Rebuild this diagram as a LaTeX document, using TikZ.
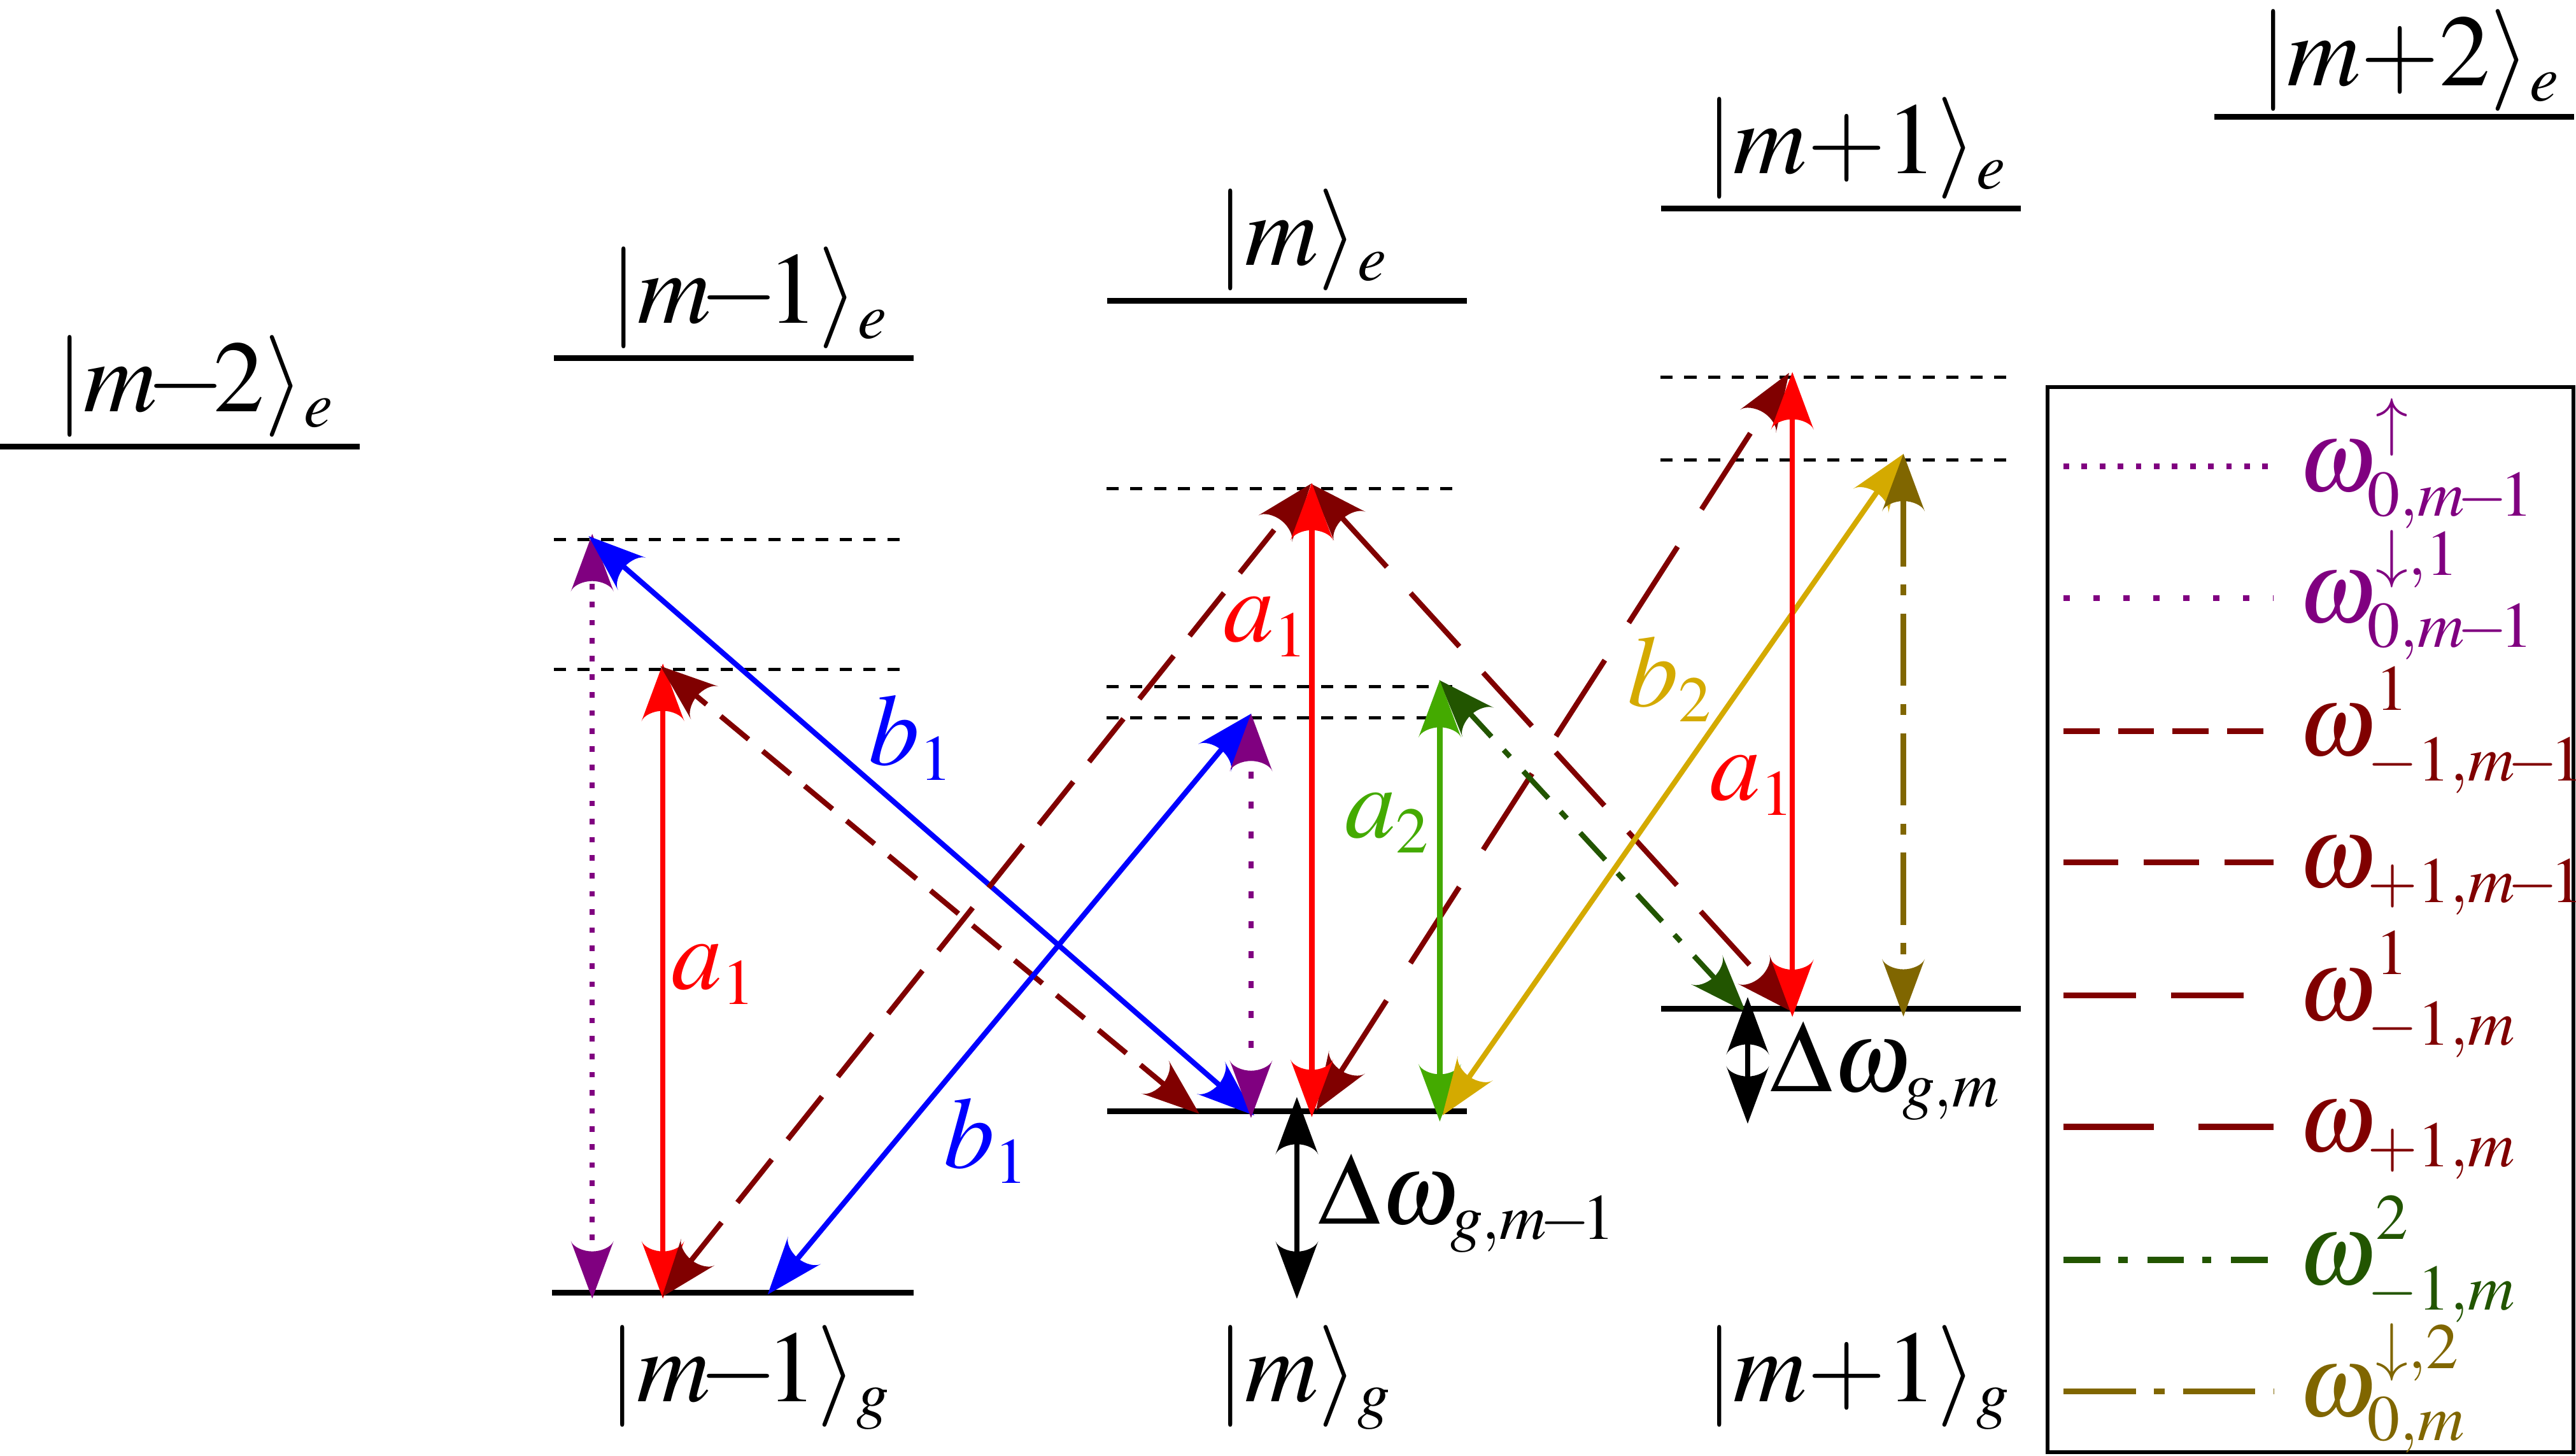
\documentclass[tikz,border=0pt]{standalone}
\usepackage{mathptmx}
\usetikzlibrary{arrows.meta}
\DeclareMathSizes{17.6}{17.6}{11.2}{8.8}
\newcommand{\mmin}{\mkern-2mu{-}\mkern-2mu}
\newcommand{\upsup}[1]{\raisebox{1.5pt}{$\scriptstyle #1$}}

\pgfdeclarearrow{
  name = CStealth,
  parameters = {\the\pgfarrowlength,\the\pgfarrowwidth},
  setup code = {
    \pgfarrowssettipend{0pt}
    \pgfarrowssetbackend{-\pgfarrowlength}
    \pgfarrowssetlineend{-.7\pgfarrowlength}
    \pgfarrowshullpoint{0pt}{0pt}
    \pgfarrowshullpoint{-\pgfarrowlength}{.5\pgfarrowwidth}
    \pgfarrowshullpoint{-\pgfarrowlength}{-.5\pgfarrowwidth}
    \pgfarrowssavethe\pgfarrowlength
    \pgfarrowssavethe\pgfarrowwidth
  },
  drawing code = {
    \pgfpathmoveto{\pgfqpoint{0pt}{0pt}}
    \pgfpathlineto{\pgfqpoint{-\pgfarrowlength}{.5\pgfarrowwidth}}
    \pgfpathcurveto{\pgfqpoint{-.9\pgfarrowlength}{.45\pgfarrowwidth}}{\pgfqpoint{-.82\pgfarrowlength}{.22\pgfarrowwidth}}{\pgfqpoint{-.82\pgfarrowlength}{0pt}}
    \pgfpathcurveto{\pgfqpoint{-.82\pgfarrowlength}{-.22\pgfarrowwidth}}{\pgfqpoint{-.9\pgfarrowlength}{-.45\pgfarrowwidth}}{\pgfqpoint{-\pgfarrowlength}{-.5\pgfarrowwidth}}
    \pgfpathclose
    \pgfusepathqfill
  },
  defaults = {length = 3.5mm, width = 2.6mm}
}

\definecolor{cMaroon}{RGB}{128,0,0}
\definecolor{cPurple}{RGB}{128,0,128}
\definecolor{cGreen}{RGB}{68,170,0}
\definecolor{cDGreen}{RGB}{34,85,0}
\definecolor{cGold}{RGB}{212,170,0}
\definecolor{cOlive}{RGB}{128,102,0}
\definecolor{cRed}{RGB}{255,0,0}
\definecolor{cBlue}{RGB}{0,0,255}

\begin{document}
\begin{tikzpicture}[x=0.01cm,y=-0.01cm,
  >={CStealth[length=0.35cm,width=0.26cm]},
  lvl/.style={line width=0.036cm},
  virt/.style={line width=0.02cm, dash pattern=on 0.074cm off 0.071cm},
  tr/.style={line width=0.032cm, <->},
  legline/.style={line width=0.036cm},
  dotA/.style={dash pattern=on 0.034cm off 0.076cm},
  dotB/.style={dash pattern=on 0.04cm off 0.142cm},
  dashA/.style={dash pattern=on 0.22cm off 0.112cm},
  dashB/.style={dash pattern=on 0.335cm off 0.155cm},
  dashC/.style={dash pattern=on 0.44cm off 0.215cm},
  dashD/.style={dash pattern=on 0.55cm off 0.27cm},
  ddotA/.style={dash pattern=on 0.224cm off 0.11cm on 0.056cm off 0.12cm},
  ddotB/.style={dash pattern=on 0.44cm off 0.11cm on 0.067cm off 0.11cm},
  lab/.style={inner sep=0pt, font=\fontsize{17.6}{21}\selectfont},
]
\useasboundingbox (0,0) rectangle (1568,886);

% ---------- energy levels ----------
\draw[lvl] (0,272) -- (219,272);
\draw[lvl] (337,218) -- (556,218);
\draw[lvl] (674,183) -- (893,183);
\draw[lvl] (1011,127) -- (1230,127);
\draw[lvl] (1348,71) -- (1567,71);
\draw[lvl] (336,787) -- (556,787);
\draw[lvl] (674,676.5) -- (893,676.5);
\draw[lvl] (1011,614) -- (1230,614);

% ---------- virtual levels ----------
\draw[virt] (337,328.6) -- (550,328.6);
\draw[virt] (337,407.5) -- (550,407.5);
\draw[virt] (673.5,297.5) -- (886,297.5);
\draw[virt] (673.5,418) -- (886,418);
\draw[virt] (673.5,437) -- (886,437);
\draw[virt] (1010.7,229.7) -- (1223,229.7);
\draw[virt] (1010.7,280) -- (1223,280);

% ---------- level labels ----------
\node[lab, anchor=base] (Lem2) at (109.5,250.6) {$|m\mmin2\rangle$\rlap{$_e$}};
\node[lab, anchor=base] (Lem1) at (446.5,196.6) {$|m\mmin1\rangle$\rlap{$_e$}};
\node[lab, anchor=base] (Lem0) at (783.5,161.6) {$|m\rangle$\rlap{$_e$}};
\node[lab, anchor=base] (Lep1) at (1120.5,105.6) {$|m{+}1\rangle$\rlap{$_e$}};
\node[lab, anchor=base] (Lep2) at (1457.5,52) {$|m{+}2\rangle$\rlap{$_e$}};
\node[lab, anchor=base] (Lgm1) at (446,853) {$|m\mmin1\rangle$\rlap{$_g$}};
\node[lab, anchor=base] (Lgm0) at (783.5,853) {$|m\rangle$\rlap{$_g$}};
\node[lab, anchor=base] (Lgp1) at (1120.5,853) {$|m{+}1\rangle$\rlap{$_g$}};

% ---------- arrow end points ----------
\coordinate (P1b) at (360.5,790.5);  \coordinate (P1t) at (360.5,325);
\coordinate (R1b) at (403.5,790.5);  \coordinate (R1t) at (403.5,404);
\coordinate (M1t) at (402,405.5);    \coordinate (M1b) at (730,678);
\coordinate (M2b) at (403,789.5);    \coordinate (Mtop) at (798,294.5);
\coordinate (M3b) at (1091,616);
\coordinate (M4b) at (801,676);      \coordinate (M4t) at (1089,227);
\coordinate (R2b) at (798.5,680);    \coordinate (R2t) at (798.5,294);
\coordinate (B1t) at (358.3,326.4);  \coordinate (B1b) at (763.4,679);
\coordinate (B2b) at (467.3,788);    \coordinate (B2t) at (761.7,434.4);
\coordinate (P2t) at (761.5,434.5);  \coordinate (P2b) at (761.5,680.5);
\coordinate (Gb) at (876.4,682.7);   \coordinate (Gt) at (876.4,414);
\coordinate (DGt) at (876,414);      \coordinate (DGb) at (1062.6,616);
\coordinate (Yb) at (878,679);       \coordinate (Yt) at (1158.7,276.3);
\coordinate (R3b) at (1091,619);     \coordinate (R3t) at (1091,226.5);
\coordinate (Ot) at (1158.6,276.3);  \coordinate (Ob) at (1158.6,618.8);
\coordinate (K1t) at (789.4,667.8);  \coordinate (K1b) at (789.4,790.6);
\coordinate (K2t) at (1063.8,607);   \coordinate (K2b) at (1063.8,684);

% ---------- transitions ----------
\draw[tr, cPurple, dotA] (P1b) -- (P1t);
\draw[tr, cRed] (R1b) -- (R1t);
\draw[tr, cBlue] (B1b) -- (B1t);
\draw[tr, cMaroon, dashA] (M1b) -- (M1t);
\draw[tr, cMaroon, dashB] (M2b) -- (Mtop);
\draw[tr, cMaroon, dashC] (Mtop) -- (M3b);
\draw[tr, cMaroon, dashD] (M4b) -- (M4t);
\draw[tr, cBlue] (B2b) -- (B2t);
\draw[tr, cPurple, dotB] (P2b) -- (P2t);
\draw[tr, cRed] (R2b) -- (R2t);
\draw[tr, cDGreen, ddotA] (DGt) -- (DGb);
\draw[tr, cGreen] (Gb) -- (Gt);
\draw[tr, cGold] (Yb) -- (Yt);
\draw[tr, cOlive, ddotB] (Ot) -- (Ob);
\draw[tr, cRed] (R3b) -- (R3t);
\draw[tr, black] (K1t) -- (K1b);
\draw[tr, black] (K2t) -- (K2b);

% ---------- transition labels ----------
\node[lab, anchor=base west, text=cRed] (la1) at (408,602) {$a_1$};
\node[lab, anchor=base west, text=cBlue] (lb1u) at (528,465.6) {$b_1$};
\node[lab, anchor=base west, text=cBlue] (lb1d) at (574,711) {$b_1$};
\node[lab, anchor=base west, text=cRed] (la1m) at (744,390.6) {$a_1$};
\node[lab, anchor=base west, text=cGreen] (la2) at (818,510) {$a_2$};
\node[lab, anchor=base west, text=cGold] (lb2) at (990,430) {$b_2$};
\node[lab, anchor=base west, text=cRed] (la1p) at (1040,487) {$a_1$};
\node[lab, anchor=base west] (ldw1) at (801.8,745) {$\Delta\omega_{g,m\mmin1}$};
\node[lab, anchor=base west] (ldw2) at (1077,664.6) {$\Delta\omega_{g,m}$};

% ---------- legend ----------
\draw[line width=0.021cm] (1246.4,235.6) rectangle (1566.4,884);
\draw[legline, cPurple, dotA] (1256,284) -- (1384,284);
\node[lab, anchor=base west, text=cPurple] (k1) at (1398,299) {$\omega^{\upsup{\uparrow}}_{0,m\mmin1}$};
\draw[legline, cPurple, dotB] (1256,364) -- (1384,364);
\node[lab, anchor=base west, text=cPurple] (k2) at (1398,379) {$\omega^{\upsup{\downarrow,1}}_{0,m\mmin1}$};
\draw[legline, cMaroon, dashA] (1256,445) -- (1384,445);
\node[lab, anchor=base west, text=cMaroon] (k3) at (1398,460) {$\omega^{\upsup{1}}_{-1,m\mmin1}$};
\draw[legline, cMaroon, dashB] (1256,525) -- (1384,525);
\node[lab, anchor=base west, text=cMaroon] (k4) at (1398,540) {$\omega_{+1,m\mmin1}$};
\draw[legline, cMaroon, dashC] (1256,606) -- (1384,606);
\node[lab, anchor=base west, text=cMaroon] (k5) at (1398,621) {$\omega^{\upsup{1}}_{-1,m}$};
\draw[legline, cMaroon, dashD] (1256,686) -- (1384,686);
\node[lab, anchor=base west, text=cMaroon] (k6) at (1398,701) {$\omega_{+1,m}$};
\draw[legline, cDGreen, ddotA] (1256,767) -- (1384,767);
\node[lab, anchor=base west, text=cDGreen] (k7) at (1398,782) {$\omega^{\upsup{2}}_{-1,m}$};
\draw[legline, cOlive, ddotB] (1256,847) -- (1384,847);
\node[lab, anchor=base west, text=cOlive] (k8) at (1398,862) {$\omega^{\upsup{\downarrow,2}}_{0,m}$};
\end{tikzpicture}
\end{document}
